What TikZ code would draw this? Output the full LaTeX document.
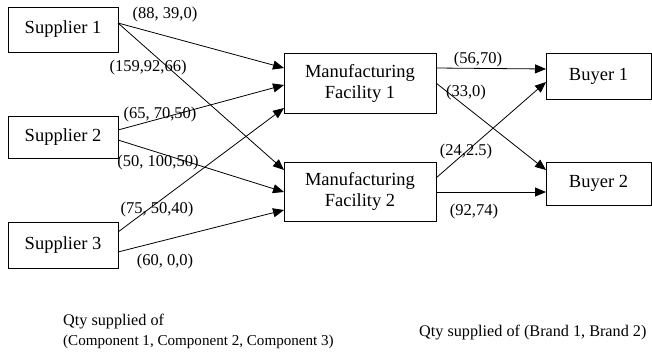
\documentclass[tikz,border=0pt]{standalone}
\usepackage{fontspec}
\setmainfont{Liberation Serif}
\usetikzlibrary{arrows.meta}
\begin{document}
\begin{tikzpicture}[x=1pt,y=-1pt,
  box/.style={draw,line width=1pt,inner sep=0pt,outer sep=0pt,align=center,font=\fontsize{18.5}{21}\selectfont},
  lab/.style={inner sep=0pt,font=\fontsize{16.5}{19}\selectfont},
  note/.style={inner sep=0pt,font=\fontsize{16.2}{19}\selectfont},
  conn/.style={line width=0.8pt,-{Triangle[length=11pt,width=9pt]}}]
\useasboundingbox (0,0) rectangle (652,351);
\node[box,minimum width=110pt,minimum height=45pt] (s1) at (63,29.5) {Supplier 1};
\node[box,minimum width=110pt,minimum height=42pt] (s2) at (63,137) {Supplier 2};
\node[box,minimum width=110pt,minimum height=46pt] (s3) at (63,245) {Supplier 3};
\node[box,minimum width=152pt,minimum height=60pt] (m1) at (360,83) {Manufacturing\\Facility 1};
\node[box,minimum width=152pt,minimum height=59pt] (m2) at (360,191.5) {Manufacturing\\Facility 2};
\node[box,minimum width=105pt,minimum height=46pt] (b1) at (598.5,76) {Buyer 1};
\node[box,minimum width=105pt,minimum height=43pt] (b2) at (598.5,183.5) {Buyer 2};
\draw[conn] ([yshift=6.5pt]s1.east) -- ([yshift=15pt]m1.west);
\draw[conn] ([yshift=6.5pt]s1.east) -- ([yshift=21.5pt]m2.west);
\draw[conn] ([yshift=7pt]s2.east) -- ([yshift=-2pt]m1.west);
\draw[conn] ([yshift=-3pt]s2.east) -- ([yshift=-0.5pt]m2.west);
\draw[conn] ([yshift=13pt]s3.east) -- ([yshift=-25pt]m1.west);
\draw[conn] ([yshift=-7pt]s3.east) -- ([yshift=-18.5pt]m2.west);
\draw[conn] ([yshift=15pt]m1.east) -- ([yshift=7pt]b1.west);
\draw[conn] ([yshift=0pt]m1.east) -- ([yshift=13.5pt]b2.west);
\draw[conn] ([yshift=13.5pt]m2.east) -- ([yshift=-6pt]b1.west);
\draw[conn] ([yshift=-0.5pt]m2.east) -- ([yshift=-8.5pt]b2.west);
\node[lab] (l1) at (165,15) {(88, 39,0)};
\node[lab] (l2) at (148,68) {(159,92,66)};
\node[lab] (l3) at (160,115) {(65, 70,50)};
\node[lab] (l4) at (158,163) {(50, 100,50)};
\node[lab] (l5) at (157,210) {(75, 50,40)};
\node[lab] (l6) at (165,262) {(60, 0,0)};
\node[lab] (l7) at (478,60) {(56,70)};
\node[lab] (l8) at (466,93) {(33,0)};
\node[lab] (l9) at (466,152) {(24,2.5)};
\node[lab] (l10) at (474,212) {(92,74)};
\node[note,anchor=west] (q1) at (63,322) {Qty supplied of};
\node[note,anchor=west,font=\fontsize{15.1}{18}\selectfont] (q2) at (63,342) {(Component 1, Component 2, Component 3)};
\node[note,anchor=west] (q3) at (419,333) {Qty supplied of (Brand 1, Brand 2)};
\end{tikzpicture}
\end{document}
